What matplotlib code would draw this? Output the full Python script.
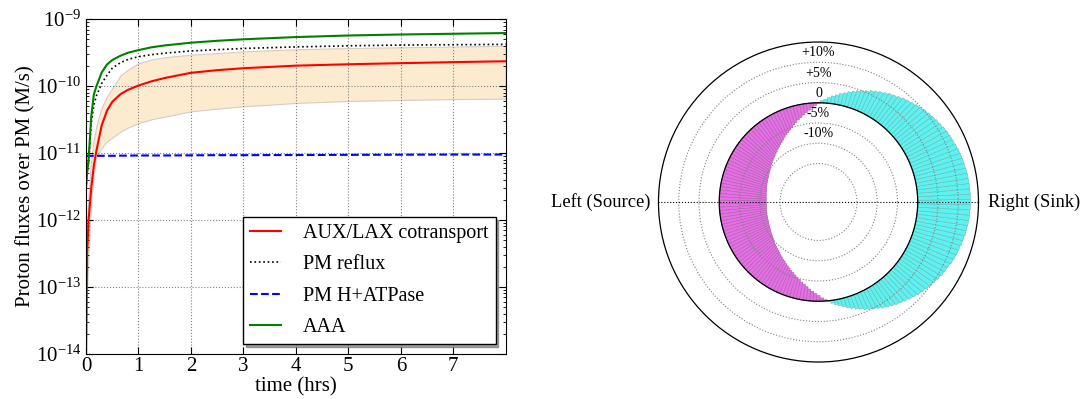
import numpy as np
import matplotlib
matplotlib.use("Agg")
import matplotlib.pyplot as plt

plt.rcParams['font.family'] = ['Liberation Serif', 'DejaVu Serif']
plt.rcParams['mathtext.fontset'] = 'stix'

# ---- left panel data ----
t_hrs = [0, 0.02, 0.05, 0.1, 0.15, 0.2, 0.3, 0.4, 0.5, 0.66, 0.8, 1, 1.25, 1.5,
         2, 2.5, 3, 4, 5, 6, 7, 8]
aux_lax = [1e-14, 3e-13, 1e-12, 3e-12, 6.5e-12, 1.1e-11, 2.6e-11, 4.3e-11, 5.8e-11,
           7.6e-11, 8.8e-11, 1.02e-10, 1.18e-10, 1.32e-10, 1.58e-10, 1.73e-10,
           1.85e-10, 2.02e-10, 2.12e-10, 2.2e-10, 2.28e-10, 2.35e-10]
pm_reflux = [3e-12, 5e-12, 7.5e-12, 2.8e-11, 5.2e-11, 7.2e-11, 1.1e-10, 1.45e-10,
             1.85e-10, 2.25e-10, 2.5e-10, 2.75e-10, 2.95e-10, 3.1e-10, 3.35e-10,
             3.5e-10, 3.65e-10, 3.85e-10, 4.0e-10, 4.1e-10, 4.15e-10, 4.2e-10]
pm_atpase = [9.1e-12, 9.1e-12, 9.1e-12, 9.1e-12, 9.1e-12, 9.1e-12, 9.1e-12, 9.1e-12,
             9.1e-12, 9.15e-12, 9.15e-12, 9.2e-12, 9.2e-12, 9.2e-12, 9.25e-12,
             9.3e-12, 9.3e-12, 9.35e-12, 9.4e-12, 9.45e-12, 9.5e-12, 9.5e-12]
aaa = [3e-12, 5e-12, 8e-12, 3.5e-11, 7.5e-11, 1.0e-10, 1.6e-10, 2.1e-10, 2.45e-10,
       2.85e-10, 3.15e-10, 3.45e-10, 3.8e-10, 4.05e-10, 4.45e-10, 4.75e-10, 5.0e-10,
       5.4e-10, 5.7e-10, 5.9e-10, 6.05e-10, 6.2e-10]
band_hi = [1e-13, 8e-13, 2.5e-12, 8e-12, 1.6e-11, 2.6e-11, 4.8e-11, 7e-11, 9.2e-11,
           1.45e-10, 1.75e-10, 2.2e-10, 2.5e-10, 2.7e-10, 2.95e-10, 3.1e-10, 3.3e-10,
           3.55e-10, 3.7e-10, 3.8e-10, 3.9e-10, 4.0e-10]
band_lo = [1e-14, 8e-14, 4e-13, 2e-12, 5e-12, 9e-12, 1.2e-11, 1.5e-11, 1.7e-11,
           2.1e-11, 2.4e-11, 2.8e-11, 3.2e-11, 3.5e-11, 4.2e-11, 4.6e-11, 5e-11,
           5.6e-11, 6e-11, 6.2e-11, 6.4e-11, 6.5e-11]

# ---- right panel data: % deviation per 2-degree sector ----
sink_deg = list(range(-84, 90, 2))
sink_pct = [0.2, 0.7, 1.2, 1.6, 2.1, 2.6, 3.0, 3.5, 3.9, 4.4, 4.8, 5.2, 5.6, 6.1, 6.5, 6.9,
            7.3, 7.6, 8.0, 8.4, 8.7, 9.1, 9.4, 9.7, 10.0, 10.3, 10.6, 10.9, 11.1, 11.3,
            11.6, 11.8, 12.0, 12.1, 12.3, 12.4, 12.6, 12.7, 12.8, 12.9, 12.9, 13.0, 13.0,
            13.0, 13.0, 13.0, 12.9, 12.9, 12.8, 12.7, 12.6, 12.5, 12.4, 12.2, 12.0, 11.9,
            11.7, 11.5, 11.2, 11.0, 10.7, 10.5, 10.2, 9.9, 9.6, 9.2, 8.9, 8.6, 8.2, 7.8,
            7.5, 7.1, 6.7, 6.3, 5.9, 5.4, 5.0, 4.6, 4.1, 3.7, 3.2, 2.8, 2.3, 1.9, 1.4,
            0.9, 0.5]
source_deg = list(range(90, 276, 2))
source_pct = [-0.1, -0.6, -1.1, -1.7, -2.2, -2.7, -3.2, -3.6, -4.1, -4.5, -5.0, -5.4, -5.8,
              -6.1, -6.5, -6.9, -7.2, -7.5, -7.8, -8.1, -8.4, -8.6, -8.9, -9.1, -9.3, -9.5,
              -9.7, -9.9, -10.1, -10.3, -10.4, -10.6, -10.7, -10.8, -10.9, -11.0, -11.1,
              -11.2, -11.3, -11.4, -11.4, -11.5, -11.5, -11.6, -11.6, -11.6, -11.6, -11.6,
              -11.6, -11.5, -11.5, -11.5, -11.4, -11.4, -11.3, -11.3, -11.2, -11.1, -11.0,
              -10.9, -10.8, -10.6, -10.5, -10.4, -10.2, -10.0, -9.8, -9.6, -9.4, -9.2,
              -9.0, -8.8, -8.5, -8.2, -7.9, -7.7, -7.3, -7.0, -6.7, -6.3, -6.0, -5.6,
              -5.2, -4.8, -4.3, -3.9, -3.4, -2.9, -2.4, -1.9, -1.4, -0.8, -0.3]
ring_vals = [-15, -10, -5, 0, 5, 10]
ring_labels = ['', '-10%', '-5%', '0', '+5%', '+10%']

fig = plt.figure(figsize=(10.83, 3.99), dpi=100)

# left: fluxes
ax = fig.add_axes([0.0794, 0.113, 0.3876, 0.839])
ax.fill_between(t_hrs, band_lo, band_hi, facecolor='#fdebd0', edgecolor='#d5ccc2', lw=0.8)
ax.plot(t_hrs, aux_lax, color='red', lw=1.5, label='AUX/LAX cotransport')
ax.plot(t_hrs, pm_reflux, color='black', lw=1.2, ls=':', label='PM reflux')
ax.plot(t_hrs, pm_atpase, color='blue', lw=1.5, ls='--', label='PM H+ATPase')
ax.plot(t_hrs, aaa, color='green', lw=1.5, label='AAA')
ax.set_yscale('log')
ax.set_xlim(0, 8)
ax.set_ylim(1e-14, 1e-9)
ax.set_xticks(range(8))
ax.grid(True, which='major', ls=':', color='gray', lw=0.8)
ax.tick_params(which='both', direction='in', top=True, right=True, labelsize=15)
ax.tick_params(which='major', length=5)
ax.tick_params(which='minor', length=2.5)
ax.tick_params(axis='x', pad=2)
ax.set_xlabel('time (hrs)', fontsize=15, labelpad=1)
ax.set_ylabel('Proton fluxes over PM (M/s)', fontsize=15, labelpad=0)
leg = ax.legend(loc='lower right', fontsize=14.5, shadow=True, fancybox=False,
                handlelength=1.55, handletextpad=1.1, labelspacing=0.6,
                borderpad=0.35, borderaxespad=0.5)
leg.get_frame().set_edgecolor('black')
leg.get_frame().set_linewidth(1.0)

# right: polar
pax = fig.add_axes([0.608, 0.0927, 0.2955, 0.802], projection='polar')
pax.bar(np.deg2rad(sink_deg), sink_pct, width=np.deg2rad(2), bottom=0,
        color='#5cf2f0', edgecolor='#6fb8b8', lw=0.4)
pax.bar(np.deg2rad(source_deg), source_pct, width=np.deg2rad(2), bottom=0,
        color='#e86ee8', edgecolor='#a860a8', lw=0.4)
circ = np.linspace(0, 2 * np.pi, 400)
pax.plot(circ, np.zeros_like(circ), color='black', lw=0.9)
pax.set_ylim(-24.5, 15)
pax.set_yticks(ring_vals)
pax.set_yticklabels([])
for r, lab in zip(ring_vals, ring_labels):
    pax.text(np.pi / 2, r + 2.3, lab, ha='center', va='center', fontsize=10)
pax.set_xticks(np.deg2rad([0, 180]))
pax.set_xticklabels([])
pax.grid(True, ls=':', color='gray', lw=0.8)
pax.xaxis.grid(True, ls=':', color='black', lw=0.8)
pax.spines['polar'].set_linewidth(0.9)
fig.text(0.601, 0.494, 'Left (Source)', ha='right', va='center', fontsize=13.3)
fig.text(0.912, 0.494, 'Right (Sink)', ha='left', va='center', fontsize=13.3)

fig.savefig('out.png', dpi=100)
